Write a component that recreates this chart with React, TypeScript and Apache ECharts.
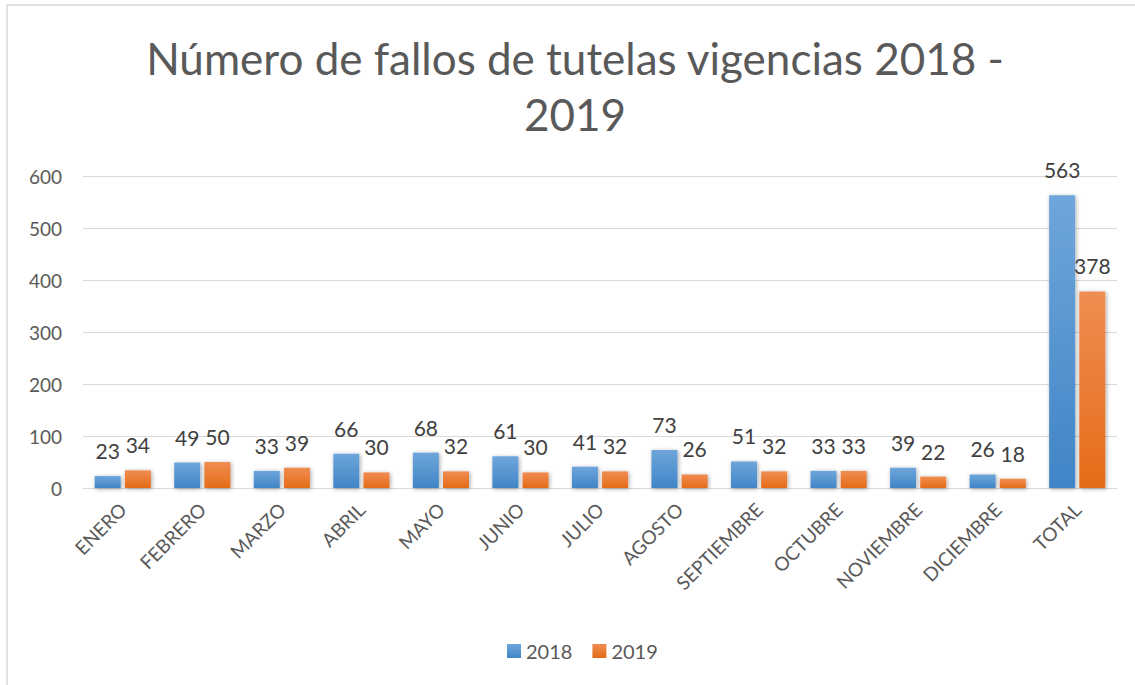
import React, { useEffect, useRef } from "react";
import * as echarts from "echarts";

const categories = ["ENERO", "FEBRERO", "MARZO", "ABRIL", "MAYO", "JUNIO", "JULIO", "AGOSTO", "SEPTIEMBRE", "OCTUBRE", "NOVIEMBRE", "DICIEMBRE", "TOTAL"];
const values2018 = [23, 49, 33, 66, 68, 61, 41, 73, 51, 33, 39, 26, 563];
const values2019 = [34, 50, 39, 30, 32, 30, 32, 26, 32, 33, 22, 18, 378];
const seriesNames = ["2018", "2019"];
const titleText = "Número de fallos de tutelas vigencias 2018 -\n2019";

const FONT = "Lato, 'Liberation Sans', sans-serif";

export default function App() {
  const ref = useRef<HTMLDivElement>(null);
  useEffect(() => {
    document.body.style.margin = "0";
    const chart = echarts.init(ref.current!, null, { renderer: "svg" });
    const blue = new echarts.graphic.LinearGradient(0, 0, 0, 1, [
      { offset: 0, color: "#6fa6db" },
      { offset: 1, color: "#4085c6" },
    ]);
    const orange = new echarts.graphic.LinearGradient(0, 0, 0, 1, [
      { offset: 0, color: "#f08d52" },
      { offset: 1, color: "#e46c18" },
    ]);
    const label = {
      show: true,
      position: "top",
      distance: 15,
      fontSize: 21,
      color: "#404040",
      fontFamily: FONT,
    };
    const shadow = {
      shadowBlur: 4,
      shadowColor: "rgba(0,0,0,0.35)",
      shadowOffsetX: 1,
      shadowOffsetY: 1,
    };
    chart.setOption({
      animation: false,
      backgroundColor: "#ffffff",
      textStyle: { fontFamily: FONT },
      title: {
        text: titleText,
        left: 570,
        top: 25,
        textAlign: "center",
        textStyle: {
          fontSize: 44,
          fontWeight: "normal",
          color: "#595959",
          lineHeight: 56,
          fontFamily: FONT,
        },
      },
      graphic: [
        {
          type: "rect",
          shape: { x: 7, y: 5, width: 1140, height: 700 },
          style: { fill: "none", stroke: "#d9d9d9", lineWidth: 1.5 },
          silent: true,
        },
      ],
      legend: {
        data: seriesNames,
        left: 502,
        top: 636,
        orient: "horizontal",
        icon: "rect",
        itemWidth: 14,
        itemHeight: 14,
        itemGap: 20,
        textStyle: { fontSize: 20, color: "#595959", fontFamily: FONT },
      },
      grid: { left: 83, right: 18, top: 176, bottom: 197, containLabel: false },
      xAxis: {
        type: "category",
        data: categories,
        axisLine: { show: true, lineStyle: { color: "#d9d9d9", width: 1 } },
        axisTick: { show: false },
        axisLabel: {
          rotate: 45,
          interval: 0,
          margin: 18,
          fontSize: 19,
          color: "#595959",
          fontFamily: FONT,
        },
      },
      yAxis: {
        type: "value",
        min: 0,
        max: 600,
        interval: 100,
        axisLine: { show: false },
        axisTick: { show: false },
        splitLine: { lineStyle: { color: "#d9d9d9", width: 1 } },
        axisLabel: { margin: 21, fontSize: 19, color: "#595959", fontFamily: FONT },
      },
      series: [
        {
          name: seriesNames[0],
          type: "bar",
          data: values2018,
          barWidth: 26,
          barGap: "16%",
          itemStyle: { color: blue, ...shadow },
          label,
        },
        {
          name: seriesNames[1],
          type: "bar",
          data: values2019,
          barWidth: 26,
          itemStyle: { color: orange, ...shadow },
          label,
        },
      ],
    });
    return () => chart.dispose();
  }, []);
  return <div ref={ref} style={{ width: 1135, height: 685 }} />;
}
